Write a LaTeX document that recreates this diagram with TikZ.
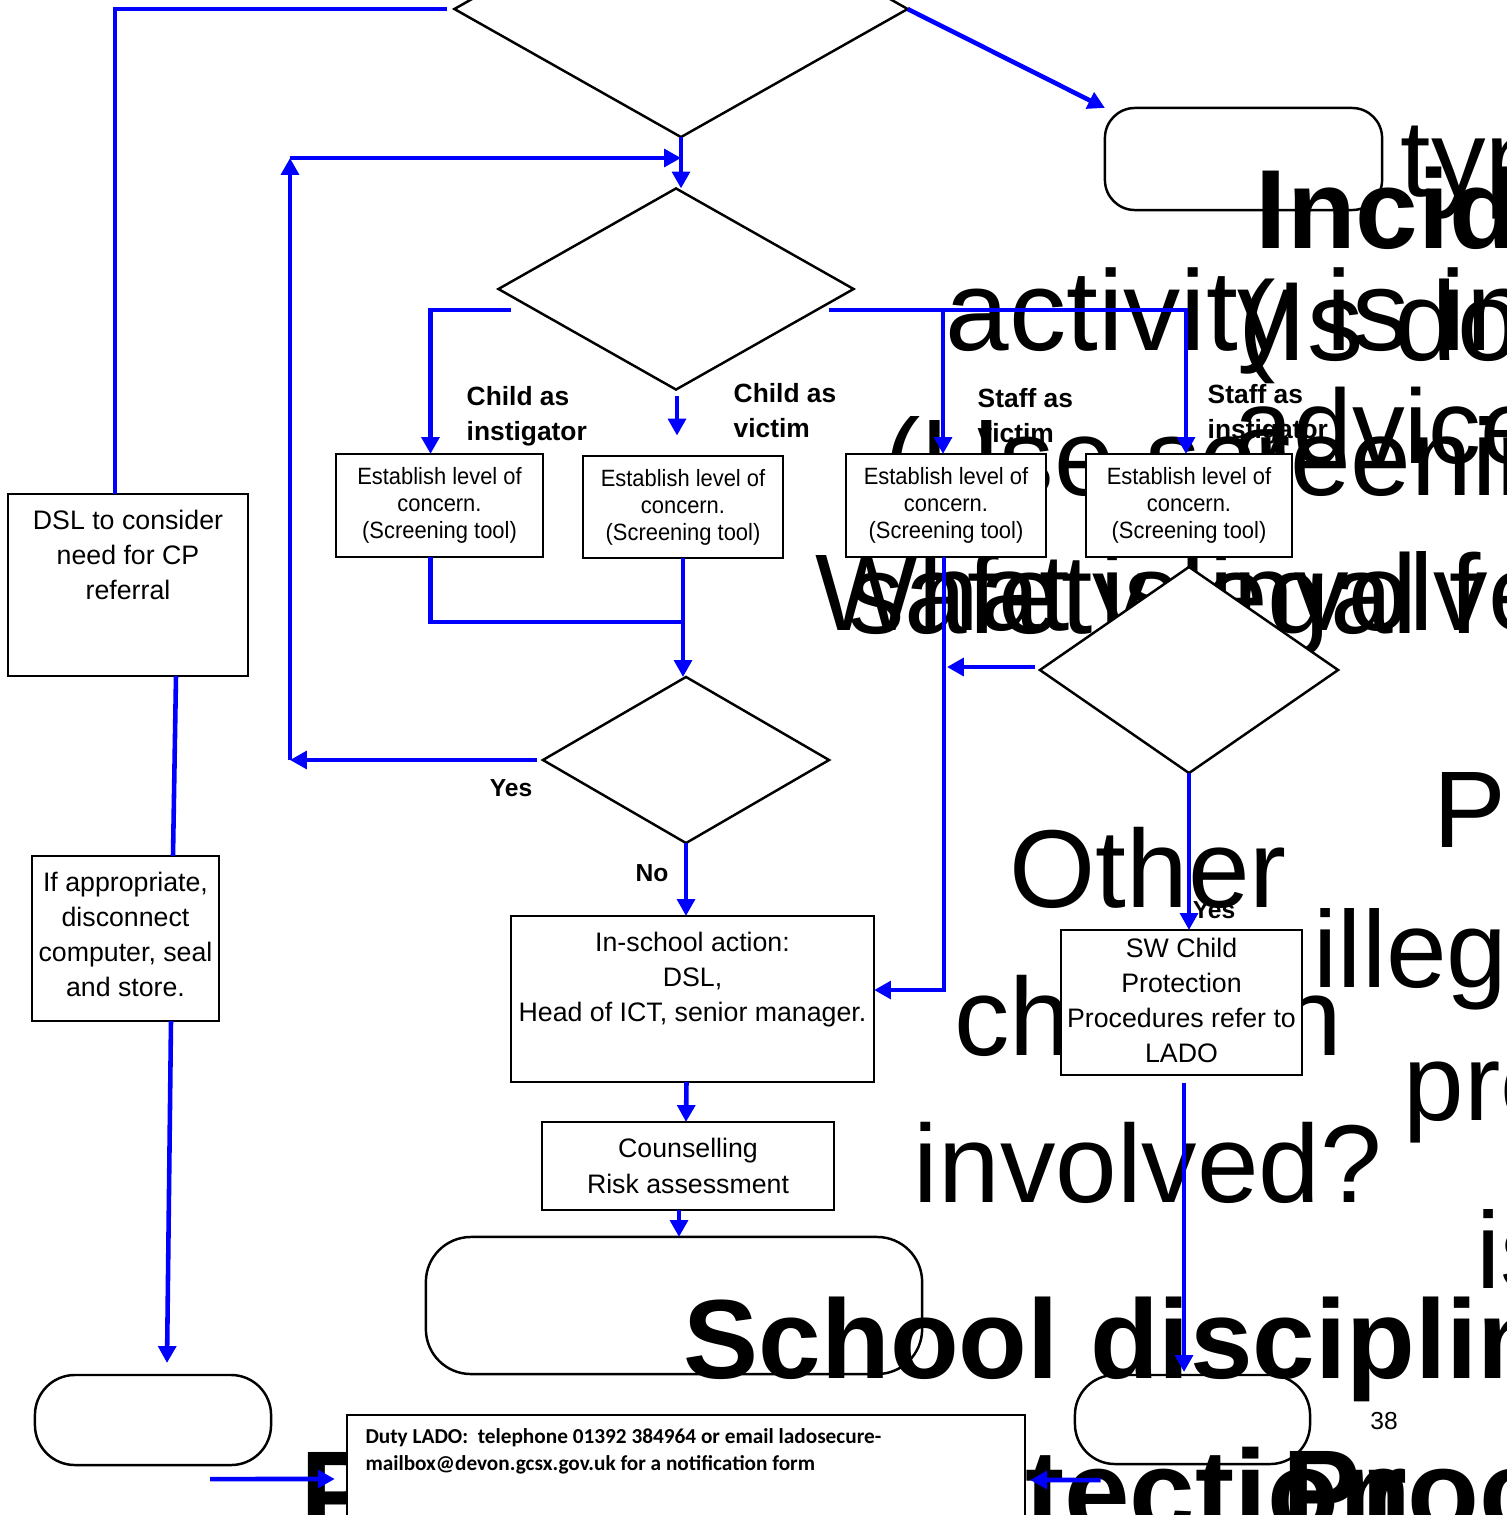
\documentclass[tikz,border=0pt]{standalone}
\usepackage{fontspec}
\setmainfont{Liberation Sans}
\newfontfamily\narrowfont[FakeStretch=0.93]{Liberation Sans}
\newfontfamily\ladofont{Carlito}
\usetikzlibrary{shapes.geometric,arrows.meta,calc,positioning}

\tikzset{
  flow/.style={draw=blue, line width=1.3pt},
  flowarr/.style={flow, -{Triangle[length=4.8pt,width=5pt]}},
  box/.style={draw, fill=white, line width=0.7pt, inner sep=0pt, outer sep=0pt, align=center},
  decision/.style={diamond, draw, fill=white, line width=0.7pt, inner sep=0pt, outer sep=0pt},
  terminal/.style={draw, fill=white, line width=0.7pt, inner sep=0pt, outer sep=0pt},
  plaintext/.style={font=\fontsize{7.6}{10}\selectfont},
  screentext/.style={font=\narrowfont\fontsize{6.7}{7.7}\selectfont},
  branch/.style={font=\bfseries\fontsize{7.5}{10}\selectfont, align=left, inner sep=0pt, anchor=north west},
  answer/.style={font=\bfseries\fontsize{7}{8}\selectfont, inner sep=0pt},
  overflow/.style={inner sep=0pt, anchor=base west, font=\fontsize{31}{31}\selectfont},
  overbold/.style={overflow, font=\bfseries\fontsize{32}{32}\selectfont}
}

\begin{document}
\begin{tikzpicture}[x=0.01cm,y=-0.01cm]
	\useasboundingbox (0,0) rectangle (1507,1515);

	% end boxes
	\node[terminal, rounded corners=0.3cm, minimum width=2.77cm, minimum height=1.02cm] (incident) at (1243.5,159) {};
	\node[terminal, rounded corners=0.45cm, minimum width=4.96cm, minimum height=1.37cm] (discipline) at (674,1305.5) {};
	\node[terminal, rounded corners=0.4cm, minimum width=2.36cm, minimum height=0.90cm] (police) at (153,1420) {};
	\node[terminal, rounded corners=0.4cm, minimum width=2.35cm, minimum height=0.89cm] (protection) at (1192.5,1419.5) {};

	% text running out of its shapes
	\node[overflow] (ovtype) at (1400,196) {type};
	\node[overbold] (ovincident) at (1255,248) {Incident};
	\node[overflow, font=\fontsize{32.5}{32.5}\selectfont] (ovactivity) at (945,350) {activity is in};
	\node[overflow, font=\fontsize{32}{32}\selectfont] (ovdoubt) at (1238,360) {(Is do};
	\node[overflow, font=\fontsize{30}{30}\selectfont] (ovadvice) at (1234,463) {advice};
	\node[overflow] (ovscreen) at (884,495) {(Use screening};
	\node[overflow] (ovwhat) at (815,630) {What is involved};
	\node[overflow, font=\fontsize{32}{32}\selectfont] (ovsafety) at (848,633) {safety legal f};
	\node[overflow, anchor=base, font=\fontsize{31.5}{31.5}\selectfont] (ovother) at (1148,907) {Other};
	\node[overflow, anchor=base, font=\fontsize{31.5}{31.5}\selectfont] (ovchildren) at (1148,1055) {children};
	\node[overflow, anchor=base, font=\fontsize{31.5}{31.5}\selectfont] (ovinvolved) at (1148,1202) {involved?};
	\node[overflow] (ovp) at (1433,847) {P};
	\node[overflow] (ovillegal) at (1313,987) {illegal};
	\node[overflow] (ovprocess) at (1403,1120) {process};
	\node[overflow] (ovis) at (1476,1288) {is};
	\node[overbold] (ovschool) at (683,1378) {School disciplinary};
	\node[overbold, font=\bfseries\fontsize{33.5}{33.5}\selectfont] (ovprotect) at (828,1532) {Protection};
	\node[overbold, font=\bfseries\fontsize{33.5}{33.5}\selectfont] (ovproc) at (1282,1532) {Procedures};
	\node[overbold, font=\bfseries\fontsize{33.5}{33.5}\selectfont] (ovpol) at (300,1533) {P};

	% decisions
	\node[decision, minimum width=4.53cm, minimum height=2.56cm] (type) at (681,9) {};
	\node[decision, minimum width=3.55cm, minimum height=2.01cm] (who) at (676,289) {};
	\node[decision, minimum width=2.86cm, minimum height=1.66cm] (serious) at (686,760) {};
	\node[decision, minimum width=2.98cm, minimum height=2.06cm] (others) at (1189,670) {};

	% boxes
	\node[box, minimum width=2.40cm, minimum height=1.82cm] (dsl) at (128,585) {};
	\node[plaintext, anchor=north, align=center, inner sep=0pt] (dsltext) at ($(dsl.north)+(0,15)$) {DSL to consider\\need for CP\\referral};
	\node[box, minimum width=1.87cm, minimum height=1.65cm] (store) at (125.5,938.5) {};
	\node[plaintext, anchor=north, align=center, inner sep=0pt] (storetext) at ($(store.north)+(0,15)$) {If appropriate,\\disconnect\\computer, seal\\and store.};
	\node[box, screentext, minimum width=2.07cm, minimum height=1.03cm] (levelA) at (439.5,505.5) {Establish level of\\concern.\\(Screening tool)};
	\node[box, screentext, minimum width=2.00cm, minimum height=1.02cm] (levelB) at (683,507) {Establish level of\\concern.\\(Screening tool)};
	\node[box, screentext, minimum width=2.00cm, minimum height=1.03cm] (levelC) at (946,505.5) {Establish level of\\concern.\\(Screening tool)};
	\node[box, screentext, minimum width=2.06cm, minimum height=1.03cm] (levelD) at (1189,505.5) {Establish level of\\concern.\\(Screening tool)};
	\node[box, minimum width=3.63cm, minimum height=1.66cm] (inschool) at (692.5,999) {};
	\node[plaintext, anchor=north, align=center, inner sep=0pt] (inschooltext) at ($(inschool.north)+(0,15)$) {In-school action:\\DSL,\\Head of ICT, senior manager.};
	\node[box, plaintext, minimum width=2.92cm, minimum height=0.88cm] (counsel) at (688,1166) {Counselling\\Risk assessment};
	\node[box, plaintext, minimum width=2.41cm, minimum height=1.45cm] (swcp) at (1181.5,1002.5) {};
	\node[plaintext, anchor=north, align=center, inner sep=0pt] (swcptext) at ($(swcp.north)+(0,7)$) {SW Child\\Protection\\Procedures refer to\\LADO};
	\node[box, minimum width=6.78cm, minimum height=1.3cm] (lado) at (686,1480) {};
	\node[anchor=north west, align=left, inner sep=0pt, font=\ladofont\bfseries\fontsize{6.05}{7.7}\selectfont] (ladotext) at ($(lado.north west)+(18,13)$) {Duty LADO:\ \ telephone 01392 384964 or email ladosecure-\\mailbox@devon.gcsx.gov.uk for a notification form};

	% labels
	\node[branch] (kidinst) at (466,386) {Child as\\instigator};
	\node[branch] (kidvict) at (733,383) {Child as\\victim};
	\node[branch] (staffvict) at (977,388) {Staff as\\victim};
	\node[branch] (staffinst) at (1207,384) {Staff as\\instigator};
	\node[answer] (yesleft) at (511,788) {Yes};
	\node[answer] (no) at (652,873) {No};
	\node[answer] (yesright) at (1214,910) {Yes};
	\node[font=\fontsize{7}{8}\selectfont, inner sep=0pt] (page) at (1384,1421) {38};

	% connectors
	\coordinate (loopleft) at (290,760);
	\coordinate (looptop) at (290,158);
	\coordinate (childbranch) at (511,310);
	\coordinate (staffbranch) at (829,310);
	\coordinate (cdrop) at ($(levelC.north)+(-3,0)$);

	\draw[flow] ($(type.west)+(-7,0)$) -| ($(dsl.north)+(-13,0)$);
	\draw[flowarr] (type.east) -- (incident.north west);
	\draw[flowarr] (type.south) -- (type.south |- who.north);
	\draw[flowarr] ($(serious.west)+(-6,0)$) -- (loopleft);
	\draw[flowarr] (loopleft) -- (looptop);
	\draw[flowarr] (looptop) -- (looptop -| type.south);
	\draw[flowarr] (childbranch) -| ($(levelA.north)+(-9,0)$);
	\draw[flowarr] ($(who.south)+(1,6)$) -- ++(0,40);
	\draw[flowarr] (staffbranch) -| ($(levelD.north)+(-3,0)$);
	\draw[flowarr] (cdrop |- staffbranch) -- (cdrop);
	\draw[flow] ($(levelA.south)+(-9,0)$) |- (levelB.south |- 0,622);
	\draw[flowarr] (levelB.south) -- (levelB.south |- serious.north);
	\draw[flowarr] (serious.south) -- (serious.south |- inschool.north);
	\draw[flowarr] ($(levelC.south)+(-2,0)$) |- ($(inschool.east)+(0,-9)$);
	\draw[flowarr] ($(others.west)+(-5,-3)$) -- ++(-88,0);
	\draw[flowarr] (others.south) -- (others.south |- swcp.north);
	\draw[flowarr] ($(inschool.south)+(-6,0)$) -- ($(counsel.north)+(-2,0)$);
	\draw[flowarr] ($(counsel.south)+(-9,0)$) -- ($(discipline.north)+(5,0)$);
	\draw[flow] ($(dsl.south)+(48,0)$) -- ($(store.north)+(47.5,0)$);
	\draw[flowarr] ($(store.south)+(45.5,0)$) -- ($(police.north)+(14,-12)$);
	\draw[flowarr] ($(swcp.south)+(2.5,8)$) -- ($(protection.north)+(-8.5,-3)$);
	\draw[flowarr] ($(police.south east)+(-61,14)$) -- ($(lado.west)+(-12,-1)$);
	\draw[flowarr] ($(protection.south)+(-92,16)$) -- ($(lado.east)+(5,0)$);

\end{tikzpicture}
\end{document}
